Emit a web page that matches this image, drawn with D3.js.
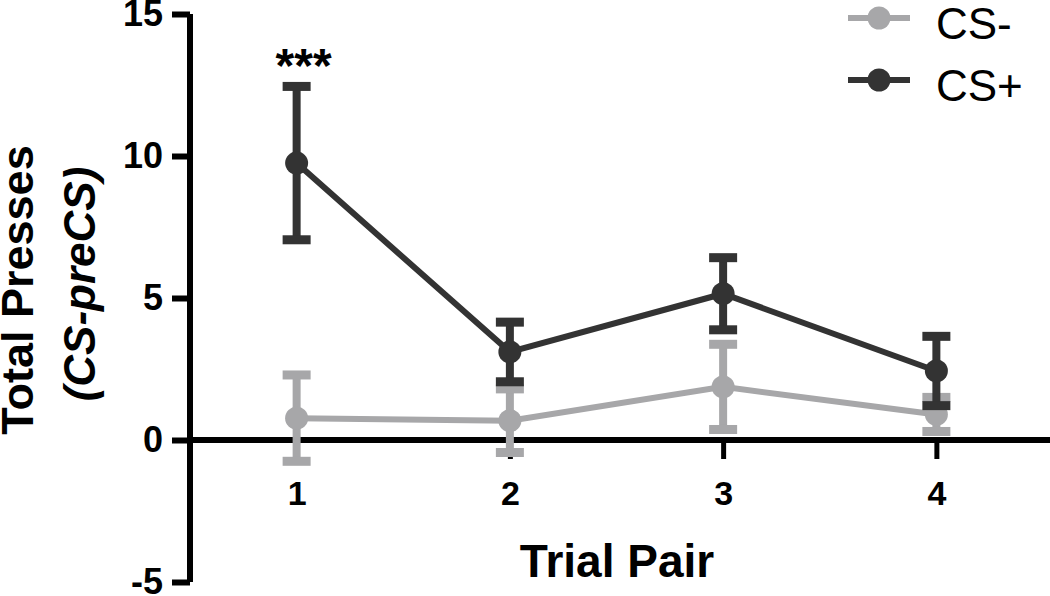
<!DOCTYPE html>
<html>
<head>
<meta charset="utf-8">
<script src="https://cdn.jsdelivr.net/npm/d3@7"></script>
<style>
  body { margin: 0; background: #fff; }
  svg { display: block; font-family: "Liberation Sans", Arial, sans-serif; }
</style>
</head>
<body>
<svg id="chart" width="1050" height="596"></svg>
<script>
// Data
const trials = [1, 2, 3, 4];
const csPlusMean = [9.75, 3.1, 5.15, 2.43];
const csPlusErr = [2.7, 1.05, 1.27, 1.22];
const csMinusMean = [0.77, 0.68, 1.87, 0.9];
const csMinusErr = [1.52, 1.12, 1.5, 0.6];
const yTicks = [-5, 0, 5, 10, 15];
const seriesNames = ["CS-", "CS+"];
const seriesColors = ["#a7a7a9", "#333333"];

const svg = d3.select("#chart");
const width = 1050;

const x = d3.scaleLinear().domain([0.5, 4.5]).range([190, 1043]);
const y = d3.scaleLinear().domain([-5, 15]).range([582, 14]);

// zero line with downward ticks
svg.append("line")
  .attr("x1", x(0.5)).attr("x2", width)
  .attr("y1", y(0)).attr("y2", y(0))
  .attr("stroke", "#000").attr("stroke-width", 6);

const xAxis = svg.append("g")
  .attr("transform", `translate(0,${y(0)})`)
  .call(d3.axisBottom(x).tickValues(trials).tickSize(19).tickPadding(22).tickFormat((d) => String(d)));
xAxis.select(".domain").remove();
xAxis.selectAll(".tick line").attr("stroke", "#000").attr("stroke-width", 5);
xAxis.selectAll(".tick text")
  .attr("fill", "#000")
  .style("font-size", "34px")
  .style("font-weight", "bold");

// y axis
const yAxis = svg.append("g")
  .attr("transform", `translate(${x(0.5)},0)`)
  .call(d3.axisLeft(y).tickValues(yTicks).tickSize(18).tickPadding(9).tickFormat((d) => String(d)));
yAxis.select(".domain")
  .attr("d", `M0,${y(15)}V${y(-5)}`)
  .attr("stroke", "#000").attr("stroke-width", 6);
yAxis.selectAll(".tick line").attr("stroke", "#000").attr("stroke-width", 6).attr("x2", -18);
yAxis.selectAll(".tick text")
  .attr("fill", "#000")
  .style("font-size", "36px")
  .style("font-weight", "bold");

// axis titles
svg.append("text")
  .attr("x", 617).attr("y", 577)
  .attr("text-anchor", "middle")
  .style("font-size", "46px").style("font-weight", "bold")
  .text("Trial Pair");

svg.append("text")
  .attr("transform", "translate(33,290) rotate(-90)")
  .attr("text-anchor", "middle")
  .style("font-size", "45px").style("font-weight", "bold")
  .text("Total Presses");

svg.append("text")
  .attr("transform", "translate(95,284) rotate(-90)")
  .attr("text-anchor", "middle")
  .style("font-size", "44px").style("font-weight", "bold").style("font-style", "italic")
  .text("(CS-preCS)");

// series
const series = [
  { name: seriesNames[0], color: seriesColors[0], mean: csMinusMean, err: csMinusErr },
  { name: seriesNames[1], color: seriesColors[1], mean: csPlusMean, err: csPlusErr },
];

const line = d3.line().x((d) => x(d.t)).y((d) => y(d.m));

series.forEach((s) => {
  const pts = trials.map((t, i) => ({ t, m: s.mean[i], e: s.err[i] }));
  const g = svg.append("g");

  g.append("path")
    .datum(pts)
    .attr("d", line)
    .attr("fill", "none")
    .attr("stroke", s.color)
    .attr("stroke-width", 6);

  // error bars
  g.selectAll(".stem")
    .data(pts)
    .enter()
    .append("line")
    .attr("x1", (d) => x(d.t)).attr("x2", (d) => x(d.t))
    .attr("y1", (d) => y(d.m + d.e)).attr("y2", (d) => y(d.m - d.e))
    .attr("stroke", s.color).attr("stroke-width", 8);

  [1, -1].forEach((sign) => {
    g.selectAll(".cap" + sign)
      .data(pts)
      .enter()
      .append("rect")
      .attr("x", (d) => x(d.t) - 14)
      .attr("y", (d) => y(d.m + sign * d.e) - 4.5)
      .attr("width", 28)
      .attr("height", 9)
      .attr("fill", s.color);
  });

  g.selectAll("circle")
    .data(pts)
    .enter()
    .append("circle")
    .attr("cx", (d) => x(d.t)).attr("cy", (d) => y(d.m))
    .attr("r", 11.5)
    .attr("fill", s.color);
});

// significance marker
svg.append("text")
  .attr("x", x(1) + 7).attr("y", 82)
  .attr("text-anchor", "middle")
  .style("font-size", "48px").style("font-weight", "bold")
  .text("***");

// legend
const legend = svg.append("g");
series.forEach((s, i) => {
  const ly = 18 + i * 62;
  legend.append("line")
    .attr("x1", 848).attr("x2", 910)
    .attr("y1", ly).attr("y2", ly)
    .attr("stroke", s.color).attr("stroke-width", 6);
  legend.append("circle")
    .attr("cx", 879).attr("cy", ly).attr("r", 11.5)
    .attr("fill", s.color);
  legend.append("text")
    .attr("x", 936).attr("y", ly + 21)
    .style("font-size", "44px")
    .text(s.name);
});
</script>
</body>
</html>
